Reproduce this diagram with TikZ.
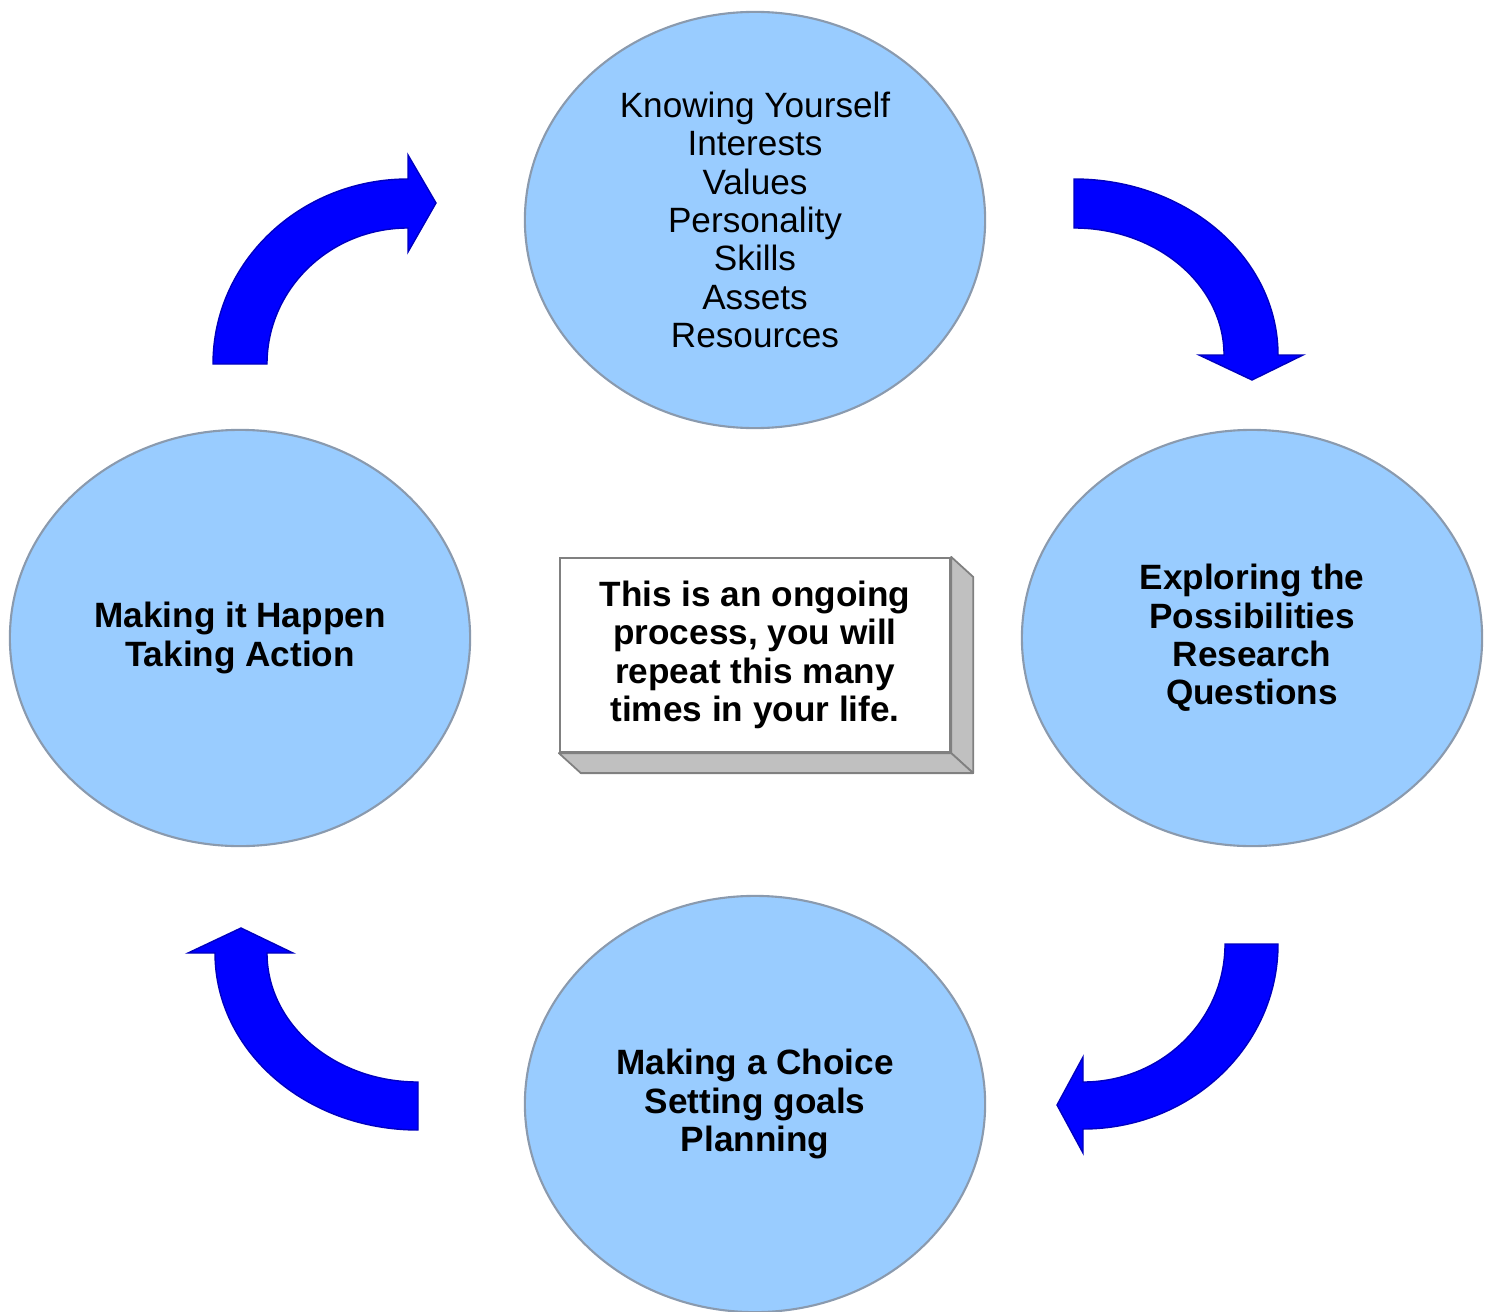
\documentclass[tikz,border=0pt]{standalone}
\usepackage{fontspec}
\setmainfont{Liberation Sans}
\usepackage{tikz}
\usetikzlibrary{shapes.geometric, calc}
\definecolor{stageblue}{HTML}{99CCFF}
\definecolor{stageline}{HTML}{8A9AAE}
\definecolor{arrowblue}{HTML}{0000FF}
\definecolor{sidegray}{HTML}{C0C0C0}
\tikzstyle{stage} = [ellipse, minimum width=4.6cm, minimum height=4.16cm, inner sep=0pt, fill=stageblue, draw=stageline, line width=0.6pt, align=center, font=\fontsize{10pt}{10.9pt}\selectfont]
\tikzstyle{stagebold} = [stage, font=\fontsize{10pt}{10.9pt}\selectfont\bfseries]
\tikzstyle{note} = [rectangle, minimum width=3.9cm, minimum height=1.94cm, fill=white, draw=gray, line width=0.6pt, align=center, font=\fontsize{10pt}{10.9pt}\selectfont\bfseries]
\tikzstyle{side} = [fill=sidegray, draw=gray, line width=0.5pt, line join=round]
\tikzstyle{turnarrow} = [fill=arrowblue, draw=blue!75!black, line width=0.4pt]

\begin{document}
\begin{tikzpicture}[x=0.01cm, y=0.01cm]
  \useasboundingbox (0,0) rectangle (1489,1311);
  \node(know)[stage] at (755,1091) {Knowing Yourself\\Interests\\Values\\Personality\\Skills\\Assets\\Resources};
  \node(explore)[stagebold] at (1252,673) {Exploring the\\Possibilities\\Research\\Questions};
  \node(choice)[stagebold] at (755,207) {Making a Choice\\Setting goals\\Planning};
  \node(action)[stagebold] at (240,673) {Making it Happen\\Taking Action};
  % box in the middle with its depth
  \node(note)[note] at (755,656) {This is an ongoing\\process, you will\\repeat this many\\times in your life.};
  \draw[side] (note.north east) -- ($(note.north east)+(22,-20)$) -- ($(note.south east)+(22,-20)$) -- (note.south east) -- cycle;
  \draw[side] (note.south west) -- (note.south east) -- ($(note.south east)+(22,-20)$) -- ($(note.south west)+(22,-20)$) -- cycle;
  % curved arrows between the stages
  \draw[turnarrow] (213,947) arc[start angle=180, end angle=90, x radius=195, y radius=185]
    -- (408,1156) -- (436,1108) -- (408,1059) -- (408,1083)
    arc[start angle=90, end angle=180, x radius=141, y radius=136] -- cycle;
  \draw[turnarrow] (1074,1132) arc[start angle=90, end angle=0, x radius=204, y radius=176]
    -- (1303,956) -- (1252,931) -- (1199,956) -- (1224,956)
    arc[start angle=0, end angle=90, x radius=150, y radius=127] -- cycle;
  \draw[turnarrow] (1278,367) arc[start angle=0, end angle=-90, x radius=195, y radius=185]
    -- (1083,158) -- (1057,206) -- (1083,254) -- (1083,229)
    arc[start angle=-90, end angle=0, x radius=142, y radius=138] -- cycle;
  \draw[turnarrow] (418,181) arc[start angle=-90, end angle=-180, x radius=203, y radius=177]
    -- (188,358) -- (241,383) -- (293,358) -- (267,358)
    arc[start angle=-180, end angle=-90, x radius=151, y radius=129] -- cycle;
\end{tikzpicture}
\end{document}
